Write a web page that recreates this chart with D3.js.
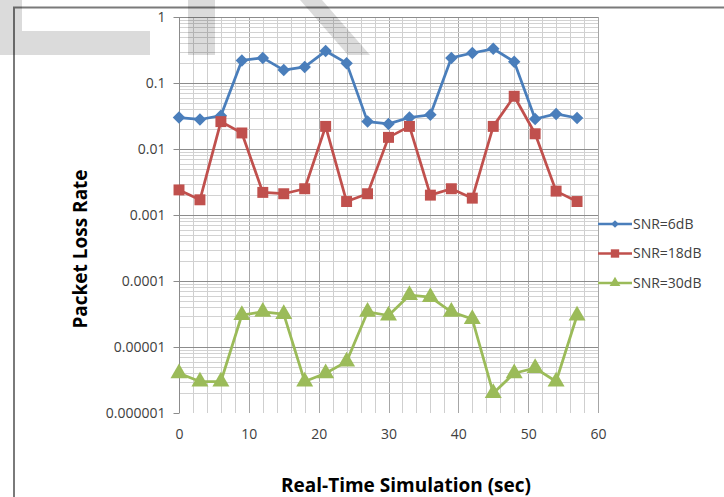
<!DOCTYPE html>
<html>
<head>
<meta charset="utf-8">
<script src="https://cdn.jsdelivr.net/npm/d3@7"></script>
<style>
    body { margin: 0; background: #fff; }
    svg { display: block; }
    text { font-family: "Open Sans", sans-serif; fill: #404040; }
</style>
</head>
<body>
<svg id="chart" width="724" height="497"></svg>
<script>
// time steps (sec)
var times = [0, 3, 6, 9, 12, 15, 18, 21, 24, 27, 30, 33, 36, 39, 42, 45, 48, 51, 54, 57];

var snr6 = [0.030, 0.028, 0.032, 0.22, 0.24, 0.157, 0.175, 0.305, 0.20, 0.026,
            0.024, 0.030, 0.033, 0.24, 0.285, 0.33, 0.21, 0.0285, 0.034, 0.0295];
var snr18 = [0.0024, 0.0017, 0.026, 0.0175, 0.0022, 0.0021, 0.0025, 0.022, 0.0016, 0.0021,
             0.015, 0.022, 0.002, 0.0025, 0.0018, 0.022, 0.063, 0.017, 0.0023, 0.0016];
var snr30 = [4e-6, 3e-6, 3e-6, 3.05e-5, 3.4e-5, 3.15e-5, 3e-6, 4e-6, 6e-6, 3.4e-5,
             3e-5, 6.1e-5, 5.7e-5, 3.4e-5, 2.65e-5, 2e-6, 4e-6, 4.8e-6, 3e-6, 3e-5];

var seriesNames = ["SNR=6dB", "SNR=18dB", "SNR=30dB"];
var yTickLabels = ["1", "0.1", "0.01", "0.001", "0.0001", "0.00001", "0.000001"];
var yTicks = [1, 0.1, 0.01, 0.001, 0.0001, 0.00001, 0.000001];
var xTicks = [0, 10, 20, 30, 40, 50, 60];

var colors = ["#4a7ebb", "#c0504d", "#9bbb59"];
// diamond = square turned 45deg
var symbols = [d3.symbolSquare, d3.symbolSquare, d3.symbolTriangle];
var rotations = [45, 0, 0];

var svg = d3.select("#chart");

// plot box
var pL = 179, pR = 598, pT = 17, pB = 413;

var x = d3.scaleLinear().domain([0, 60]).range([pL, pR]);
var y = d3.scaleLog().domain([1e-6, 1]).range([pB, pT]);

// frame
svg.append("path")
    .attr("d", "M14,500 L14,7.5 L730,7.5")
    .attr("fill", "none")
    .attr("stroke", "#7a7a7a")
    .attr("stroke-width", 2);

// grid
var grid = svg.append("g");

var minorX = d3.range(0, 61, 2);
grid.selectAll("line.vx").data(minorX).enter().append("line")
    .attr("x1", function(d){ return Math.round(x(d)) + 0.5; })
    .attr("x2", function(d){ return Math.round(x(d)) + 0.5; })
    .attr("y1", pT).attr("y2", pB)
    .attr("stroke", function(d){ return d % 10 === 0 ? "#a6a6a6" : "#cfcfcf"; })
    .attr("stroke-width", 1);

var minorY = [];
for (var e = -6; e < 0; e++) {
    for (var m = 2; m < 10; m++) {
        minorY.push(m * Math.pow(10, e));
    }
}
grid.selectAll("line.hy").data(minorY).enter().append("line")
    .attr("x1", pL).attr("x2", pR)
    .attr("y1", function(d){ return Math.round(y(d)) + 0.5; })
    .attr("y2", function(d){ return Math.round(y(d)) + 0.5; })
    .attr("stroke", "#d2d2d2")
    .attr("stroke-width", 1);

grid.selectAll("line.my").data(yTicks.slice(0, 6)).enter().append("line")
    .attr("x1", pL).attr("x2", pR)
    .attr("y1", function(d){ return Math.round(y(d)) + 0.5; })
    .attr("y2", function(d){ return Math.round(y(d)) + 0.5; })
    .attr("stroke", "#8c8c8c")
    .attr("stroke-width", 1);

// y axis
var yAxis = d3.axisLeft(y)
    .tickValues(yTicks)
    .tickFormat(function(d, i){ return yTickLabels[i]; })
    .tickSize(6)
    .tickPadding(8);

var gY = svg.append("g")
    .attr("transform", "translate(" + (pL + 0.5) + ",0)")
    .call(yAxis);
gY.select(".domain").attr("stroke", "#8c8c8c").attr("d", "M0," + pT + "V" + pB);
gY.selectAll(".tick line").attr("stroke", "#8c8c8c");
gY.selectAll(".tick text")
    .style("font-family", "'Open Sans', sans-serif")
    .style("font-size", "14px")
    .attr("fill", "#404040");

// x axis labels (no line)
var xAxis = d3.axisBottom(x).tickValues(xTicks).tickSize(0).tickPadding(16);
var gX = svg.append("g")
    .attr("transform", "translate(0," + pB + ")")
    .call(xAxis);
gX.select(".domain").remove();
gX.selectAll(".tick text")
    .style("font-family", "'Open Sans', sans-serif")
    .style("font-size", "14px")
    .attr("fill", "#404040");

// series
var allSeries = [snr6, snr18, snr30];
var line = d3.line()
    .x(function(d, i){ return x(times[i]); })
    .y(function(d){ return y(d); });

var markerSize = [78, 120, 125];

allSeries.forEach(function(vals, s) {
    svg.append("path")
        .datum(vals)
        .attr("d", line)
        .attr("fill", "none")
        .attr("stroke", colors[s])
        .attr("stroke-width", 2.75)
        .attr("stroke-linejoin", "round");

    svg.selectAll("path.m" + s).data(vals).enter().append("path")
        .attr("class", "m" + s)
        .attr("transform", function(d, i){
            return "translate(" + x(times[i]) + "," + y(d) + ") rotate(" + rotations[s] + ")";
        })
        .attr("d", d3.symbol().type(symbols[s]).size(markerSize[s]))
        .attr("fill", colors[s]);
});

// legend
var lg = svg.append("g").attr("transform", "translate(598,224)");
var items = lg.selectAll("g").data(seriesNames).enter().append("g")
    .attr("transform", function(d, i){ return "translate(0," + (i * 29.5) + ")"; });
items.append("line")
    .attr("x1", 0).attr("x2", 34)
    .attr("stroke", function(d, i){ return colors[i]; })
    .attr("stroke-width", 2.5);
items.append("path")
    .attr("transform", function(d, i){ return "translate(17,0) rotate(" + rotations[i] + ")"; })
    .attr("d", function(d, i){ return d3.symbol().type(symbols[i]).size([30, 70, 50][i])(); })
    .attr("fill", function(d, i){ return colors[i]; });
items.append("text")
    .attr("x", 35).attr("dy", "0.35em")
    .style("font-size", "14px")
    .text(function(d){ return d; });

// axis titles
svg.append("text")
    .attr("x", 406).attr("y", 492)
    .attr("text-anchor", "middle")
    .style("font-size", "19px").style("font-weight", "bold")
    .style("fill", "#000")
    .text("Real-Time Simulation (sec)");

svg.append("text")
    .attr("transform", "translate(87,249) rotate(-90)")
    .attr("text-anchor", "middle")
    .style("font-size", "19px").style("font-weight", "bold")
    .style("fill", "#000")
    .text("Packet Loss Rate");

// gray watermark shapes
var wm = svg.append("g").attr("fill", "#000").attr("fill-opacity", 0.14);
wm.append("path").attr("d", "M0,0 H22 V31 H150 V55 H0 Z");
wm.append("rect").attr("x", 188).attr("y", 0).attr("width", 27).attr("height", 55);
wm.append("path").attr("d", "M300,0 L322,0 L370,55 L348,55 Z");
</script>
</body>
</html>
